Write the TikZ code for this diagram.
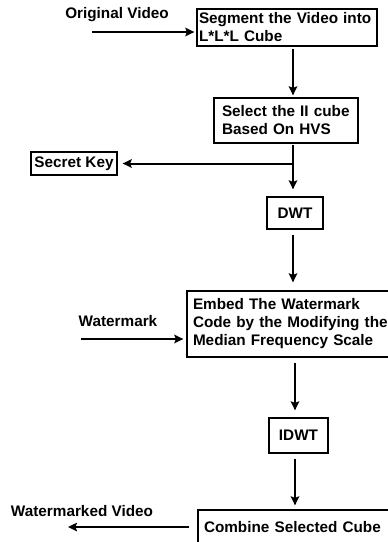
\documentclass[tikz,border=0pt]{standalone}
\usepackage{fontspec}
\setmainfont{Liberation Sans}
\usetikzlibrary{arrows.meta,calc}
\begin{document}
\begin{tikzpicture}[x=1pt,y=-1pt,
  every node/.style={font=\bfseries\fontsize{15.3}{18}\selectfont},
  box/.style={draw=black,line width=1.3pt,inner sep=0pt,align=left},
  lbl/.style={inner sep=0pt},
  arr/.style={line width=2pt,-{Stealth[length=9pt,width=8.5pt,inset=1.5pt]}}]
\useasboundingbox (0,0) rectangle (388,542);
\clip (0,0) rectangle (388,542);
% nodes
\node[lbl] (ov) at (117,15) {Original Video};
\node[box,minimum width=180pt,minimum height=37pt,text width=176pt] (b1) at (287,27.5)
  {\mbox{Segment the Video into}\\\mbox{L*L*L Cube}};
\node[box,minimum width=144pt,minimum height=45pt,text width=128pt] (b2) at (286,120.5)
  {\mbox{Select the II cube}\\\mbox{Based On HVS}};
\node[box,minimum width=86pt,minimum height=23pt,align=center] (sk) at (74,163.5) {Secret Key};
\node[box,minimum width=56pt,minimum height=32pt,align=center] (dwt) at (295,213) {DWT};
\node[lbl] (wm) at (118,321) {Watermark};
\node[box,minimum width=206pt,minimum height=66pt,text width=194pt] (emb) at (290,324)
  {\mbox{Embed The Watermark}\\\mbox{Code by the Modifying the}\\\mbox{Median Frequency Scale}};
\node[box,minimum width=59pt,minimum height=35pt,align=center] (idwt) at (298.5,435.5) {IDWT};
\node[box,minimum width=200pt,minimum height=34pt,text width=188pt] (comb) at (298,527)
  {\mbox{Combine Selected Cube}};
\node[lbl] (wv) at (82,511) {Watermarked Video};
% helper coordinates
\coordinate (ovs) at (92,32);
\coordinate (c1) at (293,0);
\coordinate (c2) at (295,0);
\coordinate (br) at (293,163.5);
\coordinate (wms) at (81,339);
\coordinate (wve) at (68,527);
% connectors
\draw[arr,shorten >=2pt] (ovs) -- (ovs -| b1.west);
\draw[arr,shorten <=2pt,shorten >=2pt] (b1.south -| c1) -- (b2.north -| c1);
\draw[arr,shorten <=1pt,shorten >=7pt] (b2.south -| c1) -- (dwt.north -| c1);
\draw[arr,shorten >=5pt] (br) -- (sk.east);
\draw[arr,shorten <=5pt,shorten >=8pt] (dwt.south -| c1) -- (emb.north -| c1);
\draw[arr,shorten >=3pt] (wms) -- (wms -| emb.west);
\draw[arr,shorten <=5pt,shorten >=7pt] (emb.south -| c2) -- (idwt.north -| c2);
\draw[arr,shorten <=5pt,shorten >=4pt] (idwt.south -| c2) -- (comb.north -| c2);
\draw[arr,shorten <=8pt] (comb.west |- wve) -- (wve);
\end{tikzpicture}
\end{document}
